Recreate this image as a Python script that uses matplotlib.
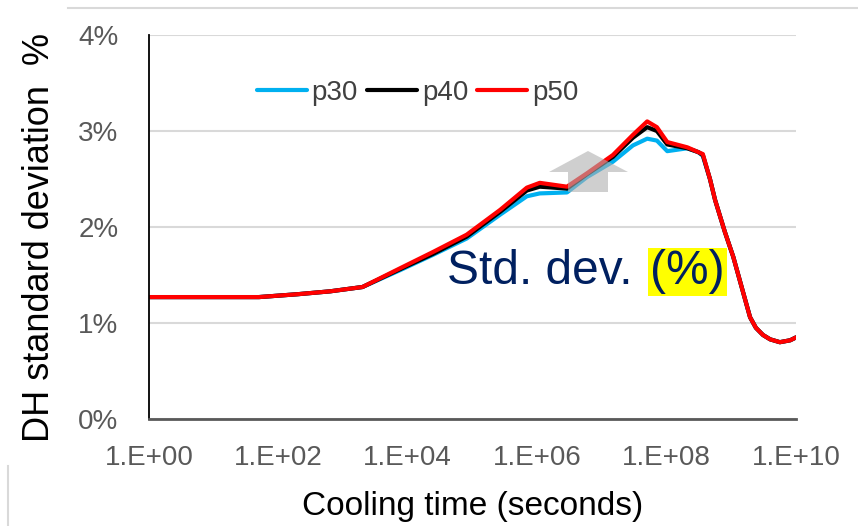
import numpy as np
import matplotlib
matplotlib.use("Agg")
from matplotlib import pyplot as plt
from matplotlib.patches import Polygon
from matplotlib.lines import Line2D

plt.rcParams['font.family'] = ['Liberation Sans', 'DejaVu Sans']

# cooling time as log10(seconds)
log_t = [0.0, 1.0, 1.7, 2.3, 2.8, 3.3, 3.88, 4.39, 4.91, 5.43, 5.84, 6.04, 6.46,
         6.77, 7.17, 7.48, 7.70, 7.85, 8.01, 8.32, 8.49, 8.56, 8.67, 8.75, 8.90,
         9.03, 9.17, 9.29, 9.38, 9.49, 9.60, 9.75, 9.91, 10.0]

p30 = [1.27, 1.27, 1.27, 1.30, 1.33, 1.375, 1.55, 1.71, 1.88, 2.13, 2.32, 2.35, 2.36,
       2.52, 2.68, 2.85, 2.92, 2.90, 2.79, 2.82, 2.78, 2.74, 2.50, 2.28, 1.95,
       1.69, 1.35, 1.06, 0.95, 0.875, 0.83, 0.80, 0.82, 0.85]
p40 = [1.27, 1.27, 1.27, 1.30, 1.33, 1.375, 1.56, 1.72, 1.90, 2.16, 2.38, 2.42, 2.40,
       2.55, 2.73, 2.93, 3.04, 3.00, 2.86, 2.82, 2.78, 2.75, 2.50, 2.28, 1.95,
       1.69, 1.35, 1.06, 0.95, 0.875, 0.83, 0.80, 0.82, 0.85]
p50 = [1.27, 1.27, 1.27, 1.30, 1.33, 1.375, 1.57, 1.74, 1.92, 2.18, 2.41, 2.46, 2.42,
       2.56, 2.75, 2.96, 3.10, 3.04, 2.885, 2.83, 2.78, 2.76, 2.50, 2.28, 1.95,
       1.69, 1.35, 1.06, 0.95, 0.875, 0.83, 0.80, 0.82, 0.85]

x_ticks = [1e0, 1e2, 1e4, 1e6, 1e8, 1e10]
x_labels = ["1.E+00", "1.E+02", "1.E+04", "1.E+06", "1.E+08", "1.E+10"]
y_ticks = [0, 1, 2, 3, 4]
y_labels = ["0%", "1%", "2%", "3%", "4%"]

t = 10 ** np.array(log_t)

fig = plt.figure(figsize=(8.58, 5.26), dpi=100)
ax = fig.add_axes([149/858, 1-419/526, (796-149)/858, (419-35)/526])

ax.plot(t, p30, color="#00B0F0", lw=3, label="p30", solid_capstyle="round", solid_joinstyle="round")
ax.plot(t, p40, color="black", lw=3, label="p40", solid_capstyle="round", solid_joinstyle="round")
ax.plot(t, p50, color="#FF0000", lw=3, label="p50", solid_capstyle="round", solid_joinstyle="round")

ax.set_xscale("log")
ax.set_xlim(1e0, 1e10)
ax.set_ylim(0, 4)
ax.set_xticks(x_ticks)
ax.set_xticklabels(x_labels)
ax.minorticks_off()
ax.set_yticks(y_ticks)
ax.set_yticklabels(y_labels)
ax.tick_params(axis="x", length=0, pad=19, labelsize=20, labelcolor="#595959")
ax.tick_params(axis="y", length=0, pad=22, labelsize=20, labelcolor="#595959")
ax.grid(axis="y", color="#d9d9d9", lw=1.5)
ax.set_axisbelow(True)
for s in ["top", "right"]:
    ax.spines[s].set_visible(False)
ax.spines["left"].set_color("black")
ax.spines["left"].set_linewidth(1.3)
ax.spines["bottom"].set_color("#595959")
ax.spines["bottom"].set_linewidth(2)

ax.set_xlabel("Cooling time (seconds)", fontsize=24, labelpad=14)
fig.text(40/858, 1-238/526, "DH standard deviation  %", rotation=90,
         fontsize=26, ha="center", va="center")

ax.legend(loc="center", bbox_to_anchor=(0.415, 0.849), ncol=3, frameon=False,
          fontsize=20, handlelength=1.8, handletextpad=0.18, columnspacing=0.32,
          labelcolor="#404040")

# gray upward arrow
arrow_px = [(588, 151), (628, 172), (608, 172), (608, 192), (568, 192), (568, 172), (549, 172)]
arrow = Polygon([(x/858, 1-y/526) for x, y in arrow_px], closed=True,
                transform=fig.transFigure, facecolor="#b0b0b0", alpha=0.6,
                edgecolor="none")
fig.patches.append(arrow)

navy = "#002060"
fig.text(447/858, 1-272/526, "Std. dev. ", fontsize=34.5, color=navy, va="center")
fig.text(650/858, 1-272/526, "(%)", fontsize=34.5, color=navy, va="center",
         bbox=dict(facecolor="yellow", edgecolor="none", pad=1.5))

# slide edge lines
fig.add_artist(Line2D([68/858, 1], [1-8/526, 1-8/526], color="#d9d9d9", lw=1.5))
fig.add_artist(Line2D([8/858, 8/858], [0, 1-466/526], color="#d9d9d9", lw=1.5))

fig.savefig("out.png", dpi=100)
